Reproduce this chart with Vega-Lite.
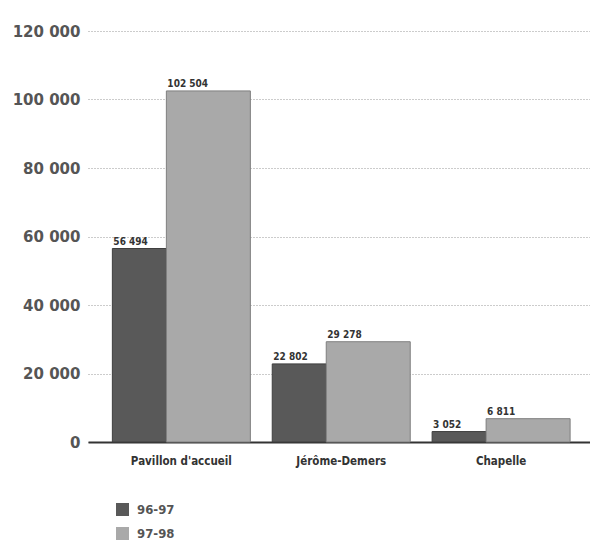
{
  "$schema": "https://vega.github.io/schema/vega-lite/v6.json",
  "width": 502,
  "height": 411,
  "autosize": {"type": "none"},
  "padding": {"left": 88, "top": 31, "right": 0, "bottom": 100},
  "background": "white",
  "config": {
    "locale": {"number": {"decimal": ",", "thousands": " ", "grouping": [3], "currency": ["", " $"]}},
    "view": {"stroke": null},
    "font": "DejaVu Sans Condensed"
  },
  "data": {
    "values": [
      {"lieu": "Pavillon d'accueil", "annee": "96-97", "visiteurs": 56494},
      {"lieu": "Pavillon d'accueil", "annee": "97-98", "visiteurs": 102504},
      {"lieu": "Jérôme-Demers", "annee": "96-97", "visiteurs": 22802},
      {"lieu": "Jérôme-Demers", "annee": "97-98", "visiteurs": 29278},
      {"lieu": "Chapelle", "annee": "96-97", "visiteurs": 3052},
      {"lieu": "Chapelle", "annee": "97-98", "visiteurs": 6811}
    ]
  },
  "encoding": {
    "x": {
      "field": "lieu", "type": "nominal", "sort": null,
      "scale": {"paddingInner": 0, "paddingOuter": 0.07, "align": 0.6},
      "axis": {
        "title": null, "labelAngle": 0, "ticks": false,
        "domainColor": "#333", "domainWidth": 2,
        "labelFont": "DejaVu Sans Condensed", "labelFontWeight": "bold",
        "labelFontSize": 11.5, "labelColor": "#333", "labelPadding": 13
      }
    },
    "y": {
      "field": "visiteurs", "type": "quantitative",
      "scale": {"domain": [0, 120000], "nice": false},
      "axis": {
        "title": null, "values": [0, 20000, 40000, 60000, 80000, 100000, 120000],
        "format": ",d", "domain": false, "ticks": false,
        "grid": true, "gridColor": "#999999", "gridDash": [1, 2], "gridWidth": 1,
        "labelFont": "DejaVu Sans", "labelFontWeight": "bold",
        "labelFontSize": 15, "labelColor": "#555", "labelPadding": 8
      }
    },
    "color": {
      "field": "annee", "type": "nominal",
      "scale": {"domain": ["96-97", "97-98"], "range": ["#595959", "#a9a9a9"]},
      "legend": {
        "title": null, "orient": "none", "legendX": 28, "legendY": 472,
        "symbolType": "square", "symbolSize": 169, "symbolStrokeWidth": 0,
        "labelFont": "DejaVu Sans Condensed", "labelFontWeight": "bold",
        "labelFontSize": 13, "labelColor": "#555", "labelOffset": 8,
        "rowPadding": 10
      }
    }
  },
  "layer": [
    {
      "transform": [{"filter": "datum.annee === '96-97'"}],
      "mark": {"type": "bar", "width": 54, "xOffset": -42, "stroke": "#3f3f3f", "strokeWidth": 1}
    },
    {
      "transform": [{"filter": "datum.annee === '97-98'"}],
      "mark": {"type": "bar", "width": 84, "xOffset": 27, "stroke": "#7f7f7f", "strokeWidth": 1}
    },
    {
      "transform": [{"filter": "datum.annee === '96-97'"}],
      "mark": {"type": "text", "align": "left", "baseline": "bottom", "dx": -68, "dy": -2, "fontSize": 10, "fontWeight": "bold", "font": "DejaVu Sans Condensed"},
      "encoding": {"text": {"field": "visiteurs", "type": "quantitative", "format": ",d"}, "color": {"value": "#333"}}
    },
    {
      "transform": [{"filter": "datum.annee === '97-98'"}],
      "mark": {"type": "text", "align": "left", "baseline": "bottom", "dx": -14, "dy": -2, "fontSize": 10, "fontWeight": "bold", "font": "DejaVu Sans Condensed"},
      "encoding": {"text": {"field": "visiteurs", "type": "quantitative", "format": ",d"}, "color": {"value": "#333"}}
    }
  ]
}
